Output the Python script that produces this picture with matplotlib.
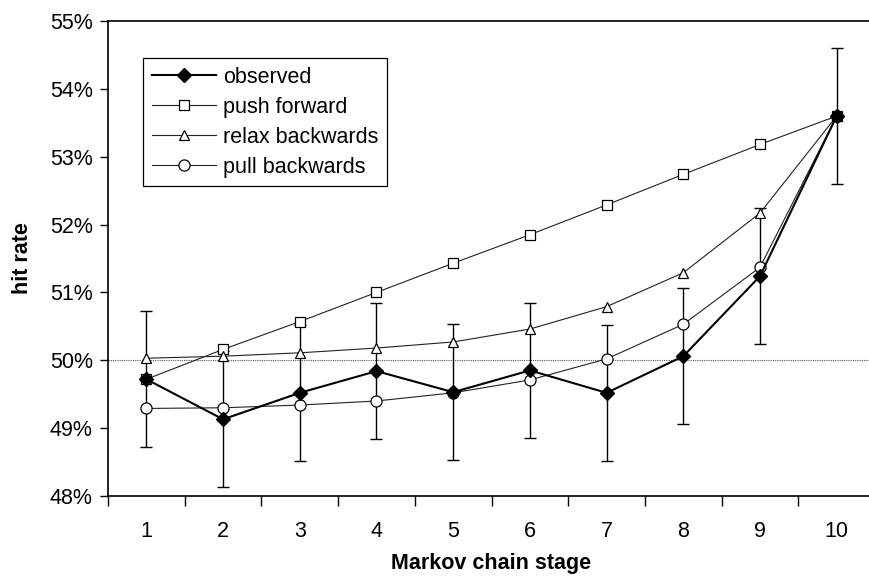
import matplotlib

matplotlib.use("Agg")
import matplotlib.pyplot as plt
from matplotlib.ticker import FixedLocator, FuncFormatter

plt.rcParams["font.family"] = ["Liberation Sans", "DejaVu Sans"]

# hit rate (%) per Markov chain stage
stages = [1, 2, 3, 4, 5, 6, 7, 8, 9, 10]
observed = [49.72, 49.13, 49.52, 49.84, 49.53, 49.85, 49.52, 50.06, 51.24, 53.60]
observed_err = [1.0, 1.0, 1.0, 1.0, 1.0, 1.0, 1.0, 1.0, 1.0, 1.0]
push_forward = [49.72, 50.16, 50.57, 51.00, 51.43, 51.85, 52.29, 52.74, 53.18, 53.60]
relax_backwards = [50.03, 50.06, 50.11, 50.18, 50.27, 50.46, 50.79, 51.29, 52.17, 53.60]
pull_backwards = [49.29, 49.30, 49.34, 49.40, 49.52, 49.71, 50.02, 50.53, 51.37, 53.60]
chance_level = 50.0

FS = 15.5

fig = plt.figure(figsize=(8.69, 5.78), dpi=100)
ax = fig.add_axes([0.1243, 0.1419, 0.8827, 0.8218])

ax.axhline(chance_level, color="#555555", linestyle=(0, (1, 1)), linewidth=0.8, zorder=1)

thin = dict(color="#222222", linewidth=0.8, markersize=7,
            markerfacecolor="white", markeredgecolor="black", markeredgewidth=0.9)
ax.plot(stages, push_forward, marker="s", label="push forward", zorder=3, **thin)
ax.plot(stages, relax_backwards, marker="^", label="relax backwards", zorder=3, **thin)
ax.plot(stages, pull_backwards, marker="o", label="pull backwards", zorder=3,
        **{**thin, "markersize": 8})

ax.errorbar(stages, observed, yerr=observed_err, fmt="none", ecolor="black",
            elinewidth=1.0, capsize=4, capthick=1.0, zorder=2)
ax.plot(stages, observed, color="black", linewidth=1.5, marker="D",
        markersize=7, markerfacecolor="black", markeredgecolor="black",
        label="observed", zorder=4)

ax.set_xlim(0.5, 10.5)
ax.set_ylim(48, 55)
ax.set_yticks(range(48, 56))
ax.yaxis.set_major_formatter(FuncFormatter(lambda v, _: f"{v:.0f}%"))

# ticks sit between stages, labels sit on the stages
ax.xaxis.set_major_locator(FixedLocator([s - 0.5 for s in stages] + [10.5]))
ax.xaxis.set_major_formatter(FuncFormatter(lambda v, _: ""))
ax.xaxis.set_minor_locator(FixedLocator(stages))
ax.xaxis.set_minor_formatter(FuncFormatter(lambda v, _: f"{v:.0f}"))
ax.tick_params(axis="x", which="major", direction="out", length=7, width=1.0)
ax.tick_params(axis="x", which="minor", length=0, pad=18, labelsize=FS)
ax.tick_params(axis="y", direction="out", length=6, width=1.0, labelsize=FS, pad=5)

for side in ("left", "top", "bottom", "right"):
    ax.spines[side].set_linewidth(1.2)

ax.set_xlabel("Markov chain stage", fontsize=FS, fontweight="bold", labelpad=8)
ax.set_ylabel("hit rate", fontsize=FS, fontweight="bold", labelpad=12)

handles, labels = ax.get_legend_handles_labels()
order = [3, 0, 1, 2]
leg = ax.legend([handles[i] for i in order], [labels[i] for i in order],
                loc="upper left", bbox_to_anchor=(0.046, 0.922), fontsize=FS,
                frameon=True, fancybox=False, edgecolor="black", framealpha=1,
                handlelength=3.0, handletextpad=0.3, borderpad=0.4,
                labelspacing=0.42, borderaxespad=0)
leg.get_frame().set_linewidth(0.9)

fig.savefig("out.png", dpi=100)
